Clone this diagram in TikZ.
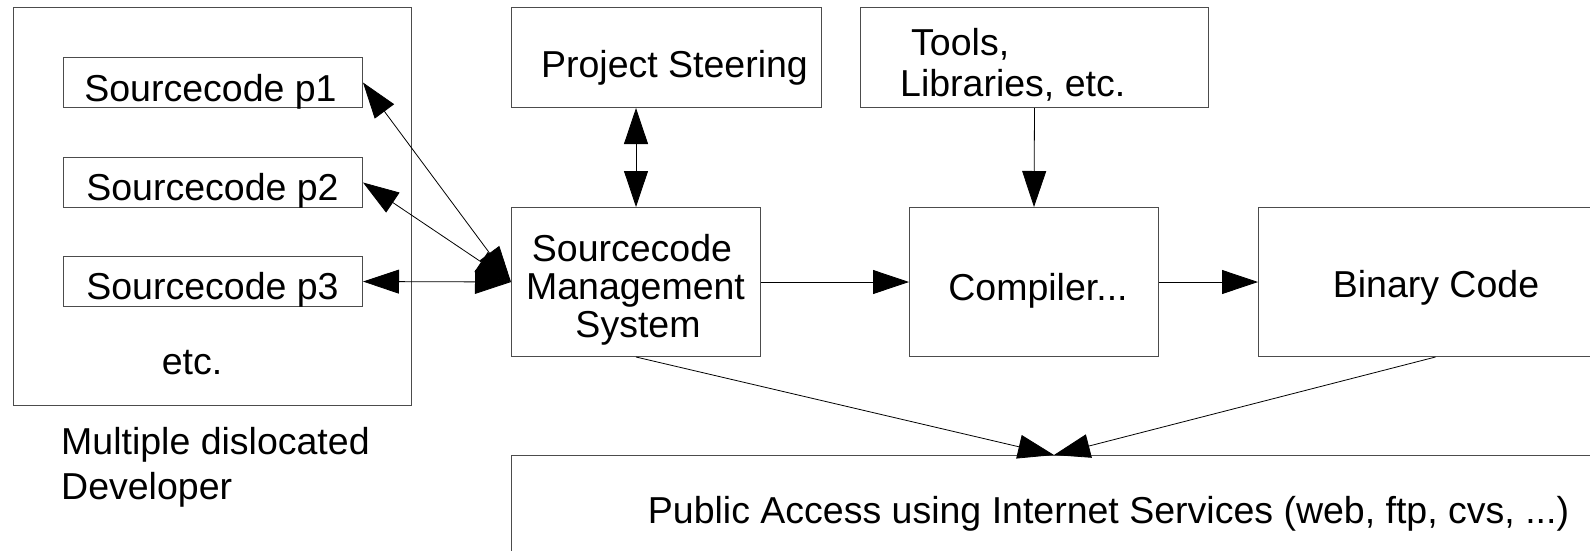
\documentclass[tikz,border=0pt]{standalone}
\usepackage{fontspec}
\setmainfont{Liberation Sans}
\usetikzlibrary{arrows.meta,calc}
\begin{document}
\begin{tikzpicture}[x=1pt,y=-1pt,
  box/.style={draw=black!70,line width=1pt,inner sep=0pt,anchor=north west},
  lbl/.style={inner sep=0pt,anchor=base,font=\fontsize{37.5}{40}\selectfont},
  lblw/.style={lbl,anchor=base west},
  tip/.tip={Triangle[length=36pt,width=24pt]},
  conn/.style={line width=0.8pt,-tip},
  bconn/.style={line width=0.8pt,tip-tip}]
\useasboundingbox (0,0) rectangle (1590,550);
% boxes
\node[box,minimum width=398pt,minimum height=398pt] (dev) at (13,7) {};
\node[box,minimum width=299pt,minimum height=50pt] (p1) at (63,57) {};
\node[box,minimum width=299pt,minimum height=50pt] (p2) at (63,157) {};
\node[box,minimum width=299pt,minimum height=50pt] (p3) at (63,256) {};
\node[box,minimum width=310pt,minimum height=100pt] (ps) at (511,7) {};
\node[box,minimum width=348pt,minimum height=100pt] (tools) at (860,7) {};
\node[box,minimum width=249pt,minimum height=149pt] (sms) at (511,207) {};
\node[box,minimum width=249pt,minimum height=149pt] (comp) at (909,207) {};
\node[box,minimum width=354pt,minimum height=149pt] (bin) at (1258,207) {};
\node[box,minimum width=1195pt,minimum height=140pt] (pub) at (511,455) {};
% labels
\node[lbl] (tp1) at (210.5,101) {Sourcecode p1};
\node[lbl] (tp2) at (212.5,200) {Sourcecode p2};
\node[lbl] (tp3) at (212.5,299) {Sourcecode p3};
\node[lbl] (tetc) at (192,374) {etc.};
\node[lblw] (tmd1) at (61,454) {Multiple dislocated};
\node[lblw] (tmd2) at (61,499) {Developer};
\node[lbl] (tps) at (674.5,77) {Project Steering};
\node[lblw] (ttl1) at (911,55) {Tools,};
\node[lblw] (ttl2) at (900,96) {Libraries, etc.};
\node[lbl] (tsms1) at (632,261) {Sourcecode};
\node[lbl] (tsms2) at (635.5,299) {Management};
\node[lbl] (tsms3) at (638,337) {System};
\node[lbl] (tcomp) at (1038,300) {Compiler...};
\node[lbl] (tbin) at (1436,297) {Binary Code};
\node[lbl] (tpub) at (1108.5,523) {Public Access using Internet Services (web, ftp, cvs, ...)};
% connectors
\coordinate (meet) at (1054,455);
\draw[bconn] (p1.east) -- (sms.west);
\draw[bconn] (p2.east) -- (sms.west);
\draw[bconn] (p3.east) -- (sms.west);
\draw[bconn] (ps.south -| sms.north) -- (sms.north);
\draw[conn] (tools.south) -- (comp.north);
\draw[conn] (sms.east) -- (comp.west);
\draw[conn] (comp.east) -- (bin.west);
\draw[conn] (sms.south) -- (meet);
\draw[conn] (bin.south) -- (meet);
\end{tikzpicture}
\end{document}
